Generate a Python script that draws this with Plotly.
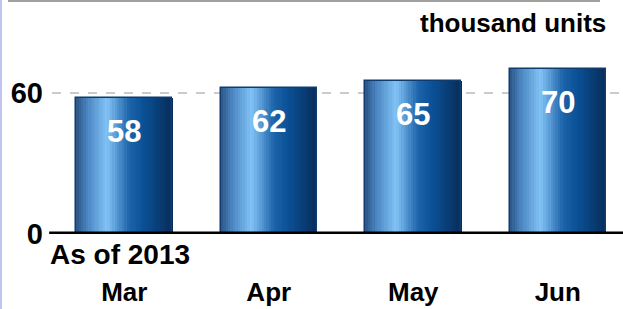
import plotly.graph_objects as go

categories = ["Mar", "Apr", "May", "Jun"]
values = [58, 62, 65, 70]
tick_vals = [0, 60]
tick_text = ["0", "60"]
unit_label = "thousand units"
note_label = "As of 2013"

W, H = 623, 309
ml, mr, mt, mb = 52, 0, 30, 75
plot_w = W - ml - mr
plot_h = H - mt - mb
step_px = 144.5
x_range = [-0.5, -0.5 + plot_w / step_px]
y_range = [0, 86.8]

bar_w = 0.665
n_strips = 40

# cylinder gradient stops (position, rgb)
stops = [(0.0, (45, 85, 135)), (0.12, (75, 135, 195)), (0.32, (130, 195, 245)),
         (0.55, (30, 100, 170)), (0.7, (10, 80, 150)), (1.0, (8, 45, 90))]

def grad(t):
    for (p0, c0), (p1, c1) in zip(stops[:-1], stops[1:]):
        if p0 <= t <= p1:
            f = (t - p0) / (p1 - p0)
            c = [round(a + (b - a) * f) for a, b in zip(c0, c1)]
            return f"rgb({c[0]},{c[1]},{c[2]})"
    return "rgb(8,45,90)"

fig = go.Figure()
sw = bar_w / n_strips
for i in range(n_strips):
    t = (i + 0.5) / n_strips
    fig.add_trace(go.Bar(
        x=categories, y=values,
        width=[sw * 1.15] * len(categories),
        offset=[-bar_w / 2 + i * sw] * len(categories),
        marker=dict(color=grad(t), line=dict(width=0)),
        hoverinfo="skip", showlegend=False,
    ))
# outline
fig.add_trace(go.Bar(
    x=categories, y=values, width=[bar_w] * len(categories),
    offset=[-bar_w / 2] * len(categories),
    marker=dict(color="rgba(0,0,0,0)", line=dict(color="rgb(15,60,110)", width=1.5)),
    hoverinfo="skip", showlegend=False,
))

for c, v in zip(categories, values):
    fig.add_annotation(x=c, y=v, xref="x", yref="y", text=f"<b>{v}</b>",
                       showarrow=False, yanchor="top", yshift=-14,
                       font=dict(family="Liberation Sans", size=31, color="white"))

fig.add_annotation(x=1.0, y=1, xref="paper", yref="paper", text=f"<b>{unit_label}</b>",
                   showarrow=False, xanchor="right", yanchor="bottom", xshift=-15, yshift=-10,
                   font=dict(family="Liberation Sans", size=26, color="black"))
fig.add_annotation(x=0, y=0, xref="paper", yref="paper", text=f"<b>{note_label}</b>",
                   showarrow=False, xanchor="left", yanchor="top", xshift=-4, yshift=-3,
                   font=dict(family="Liberation Sans", size=28, color="black"))

# gridline at 60
fig.add_shape(type="line", xref="paper", yref="y", x0=0, x1=1, y0=60, y1=60,
              line=dict(color="rgb(150,150,150)", width=1, dash="dash"), layer="below")
# baseline
fig.add_shape(type="line", xref="paper", yref="y", x0=-0.005, x1=1, y0=0, y1=0,
              line=dict(color="black", width=5))
# top line and left strip
fig.add_shape(type="line", xref="paper", yref="paper", x0=(8 - ml) / plot_w, x1=(600 - ml) / plot_w,
              y0=1 + (mt - 1) / plot_h, y1=1 + (mt - 1) / plot_h,
              line=dict(color="rgb(160,160,160)", width=2))
fig.add_shape(type="rect", xref="paper", yref="paper", x0=(0 - ml) / plot_w, x1=(2 - ml) / plot_w,
              y0=-mb / plot_h, y1=1 + mt / plot_h,
              fillcolor="rgb(195,195,240)", line=dict(width=0))

fig.update_layout(
    width=W, height=H, margin=dict(l=ml, r=mr, t=mt, b=mb),
    barmode="overlay", bargap=0, plot_bgcolor="white", paper_bgcolor="white",
    showlegend=False,
    xaxis=dict(range=x_range, showgrid=False, zeroline=False, showline=False, ticks="",
               tickfont=dict(family="Liberation Sans", size=26, color="black"),
               tickvals=categories, ticktext=[f"<b>{c}</b>" for c in categories],
               ticklabelstandoff=40),
    yaxis=dict(range=y_range, showgrid=False, zeroline=False, showline=False, ticks="",
               tickvals=tick_vals, ticktext=[f"<b>{t}</b>" for t in tick_text],
               tickfont=dict(family="Liberation Sans", size=29, color="black"),
               ticklabelstandoff=8),
)

fig.write_html("out.html", config={"displayModeBar": False},
               post_script="document.body.style.margin='0';document.body.style.overflow='hidden';")
